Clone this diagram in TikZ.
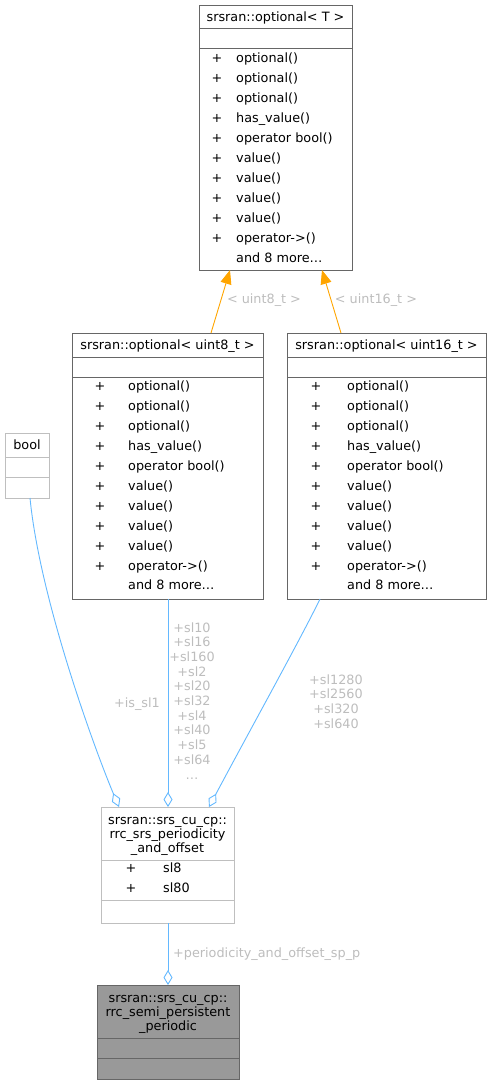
\documentclass[tikz,border=0pt]{standalone}
\usepackage{fontspec}
\setmainfont{DejaVu Sans}
\usetikzlibrary{arrows.meta,positioning}
\definecolor{boxdark}{HTML}{666666}
\definecolor{boxlight}{HTML}{BFBFBF}
\definecolor{boxfill}{HTML}{999999}
\definecolor{edgeblue}{HTML}{63B8FF}
\definecolor{inhorange}{HTML}{FFA500}
\definecolor{lblgray}{HTML}{BDBDBD}
\tikzset{
  cls/.style={draw=boxdark,line width=1pt,rectangle,anchor=north west,inner sep=0pt,outer sep=0pt},
  clslight/.style={cls,draw=boxlight},
  aggr/.style={draw=edgeblue,line width=0.9pt,{Diamond[open,length=15pt,width=9pt]}-},
  inh/.style={draw=inhorange,line width=0.9pt,-{Triangle[length=14pt,width=11pt]}},
  lbl/.style={text=lblgray,inner sep=0pt,anchor=base}
}
\begin{document}
\begin{tikzpicture}[x=1pt,y=-1pt,font=\fontsize{12.8}{14.7}\selectfont]
\useasboundingbox (0,0) rectangle (491,1085);
% template
\node[cls,minimum width=153,minimum height=265] (optT) at (199,5) {};
\draw[boxdark,line width=1pt] (199,28) -- (352,28);
\draw[boxdark,line width=1pt] (199,48) -- (352,48);
\node[anchor=base] (optTt) at (275.5,21.5) {srsran::optional< T >};
\foreach \m [count=\i from 0] in {optional(),optional(),optional(),has\_value(),operator bool(),value(),value(),value(),value(),operator->()}
{
\node[anchor=base] (tp\i) at (217,62+20*\i) {+};
\node[anchor=base west,inner sep=0pt] (tm\i) at (236,62+20*\i) {\m};
}
\node[anchor=base west,inner sep=0pt] (tmore) at (236,262) {and 8 more\ldots};
% uint8_t
\node[cls,minimum width=191,minimum height=266] (opt8) at (72,333) {};
\draw[boxdark,line width=1pt] (72,357) -- (263,357);
\draw[boxdark,line width=1pt] (72,377) -- (263,377);
\node[anchor=base] (opt8t) at (167.5,349.5) {srsran::optional< uint8\_t >};
\foreach \m [count=\i from 0] in {optional(),optional(),optional(),has\_value(),operator bool(),value(),value(),value(),value(),operator->()}
{
\node[anchor=base] (ap\i) at (100,390+20*\i) {+};
\node[anchor=base west,inner sep=0pt] (am\i) at (128,390+20*\i) {\m};
}
\node[anchor=base west,inner sep=0pt] (amore) at (128,589) {and 8 more\ldots};
% uint16_t
\node[cls,minimum width=199,minimum height=266] (opt16) at (287,333) {};
\draw[boxdark,line width=1pt] (287,357) -- (486,357);
\draw[boxdark,line width=1pt] (287,377) -- (486,377);
\node[anchor=base] (opt16t) at (386.5,349.5) {srsran::optional< uint16\_t >};
\foreach \m [count=\i from 0] in {optional(),optional(),optional(),has\_value(),operator bool(),value(),value(),value(),value(),operator->()}
{
\node[anchor=base] (bp\i) at (316,390+20*\i) {+};
\node[anchor=base west,inner sep=0pt] (bm\i) at (347,390+20*\i) {\m};
}
\node[anchor=base west,inner sep=0pt] (bmore) at (347,589) {and 8 more\ldots};
% bool
\node[clslight,minimum width=44,minimum height=65] (bool) at (5,433) {};
\draw[boxlight,line width=1pt] (5,457) -- (49,457);
\draw[boxlight,line width=1pt] (5,477) -- (49,477);
\node[anchor=base] (boolt) at (27,449) {bool};
% periodicity and offset
\node[clslight,minimum width=133,minimum height=116] (srs) at (101,807) {};
\draw[boxlight,line width=1pt] (101,860) -- (234,860);
\draw[boxlight,line width=1pt] (101,900) -- (234,900);
\node[anchor=base] (srst1) at (167.5,824.5) {srsran::srs\_cu\_cp::};
\node[anchor=base] (srst2) at (167.5,838.5) {rrc\_srs\_periodicity};
\node[anchor=base] (srst3) at (167.5,852.5) {\_and\_offset};
\node[anchor=base] (sp1) at (131,872.5) {+};
\node[anchor=base west,inner sep=0pt] (sm1) at (163,872.5) {sl8};
\node[anchor=base] (sp2) at (131,892.5) {+};
\node[anchor=base west,inner sep=0pt] (sm2) at (163,892.5) {sl80};
% semi persistent
\node[cls,fill=boxfill,minimum width=142,minimum height=94] (semi) at (97,985) {};
\draw[boxdark,line width=1pt] (97,1038) -- (239,1038);
\draw[boxdark,line width=1pt] (97,1058) -- (239,1058);
\node[anchor=base] (semit1) at (168,1002.5) {srsran::srs\_cu\_cp::};
\node[anchor=base] (semit2) at (168,1016.5) {rrc\_semi\_persistent};
\node[anchor=base] (semit3) at (168,1030.5) {\_periodic};
% edges
\coordinate (boolOut) at (30,498);
\coordinate (srsInA) at (119,807);
\coordinate (srsInB) at (168,807);
\coordinate (srsInC) at (209,807);
\coordinate (opt8Out) at (168,599);
\coordinate (opt16Out) at (320,599);
\coordinate (opt8In) at (211,333);
\coordinate (opt16In) at (341,333);
\coordinate (optTa) at (230,270);
\coordinate (optTb) at (322,270);
\coordinate (semiIn) at (168,985);
\coordinate (srsOut) at (168,923);
\draw[inh] (opt8In) -- (optTa);
\draw[inh] (opt16In) -- (optTb);
\node[lbl] (l8) at (264,303) {< uint8\_t >};
\node[lbl] (l16) at (376,303) {< uint16\_t >};
\draw[aggr] (srsInA) .. controls (95,750) and (40,600) .. (boolOut);
\draw[aggr] (srsInB) -- (opt8Out);
\draw[aggr] (srsInC) .. controls (250,730) and (300,640) .. (opt16Out);
\draw[aggr] (semiIn) -- (srsOut);
\node[lbl] (lis) at (137,707) {+is\_sl1};
\foreach \t [count=\i from 0] in {+sl10,+sl16,+sl160,+sl2,+sl20,+sl32,+sl4,+sl40,+sl5,+sl64}
\node[lbl] (ls\i) at (192,632+14.7*\i) {\t};
\node[lbl] (lsdots) at (192,779) {\ldots};
\foreach \t [count=\i from 0] in {+sl1280,+sl2560,+sl320,+sl640}
\node[lbl] (lt\i) at (336,684+14.7*\i) {\t};
\node[lbl,anchor=base west] (lpo) at (173,957) {+periodicity\_and\_offset\_sp\_p};
\end{tikzpicture}
\end{document}
